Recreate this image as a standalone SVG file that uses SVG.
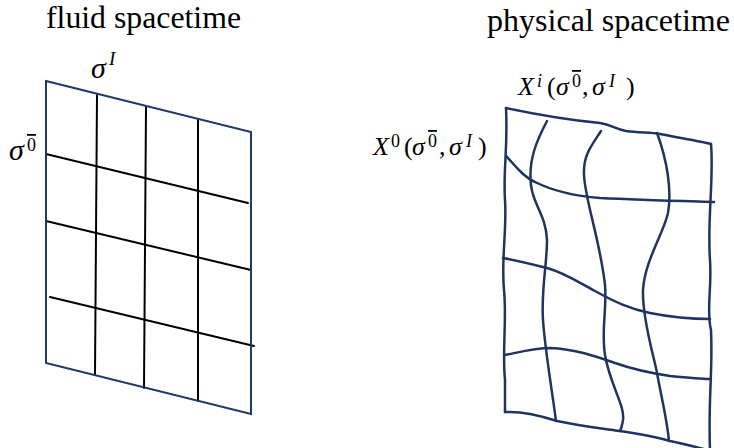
<svg xmlns="http://www.w3.org/2000/svg" width="734" height="448" viewBox="0 0 734 448">
<style>
.title{font-family:"Liberation Serif","DejaVu Serif",serif;font-size:31px;fill:#000}
.math{font-family:"Liberation Serif","DejaVu Serif",serif;fill:#000}
.it{font-style:italic}
.ov{text-decoration:overline}
.frame{fill:none;stroke:#203864;stroke-width:2}
.ln{fill:none;stroke:#000;stroke-width:2;stroke-linecap:round}
.wv{fill:none;stroke:#1f3460;stroke-width:2.5;stroke-linecap:round;stroke-linejoin:round}
</style>
<rect width="734" height="448" fill="#fff"/>
<g id="fluid-spacetime">
  <text class="title" x="46" y="28" textLength="195" lengthAdjust="spacingAndGlyphs">fluid spacetime</text>
  <g id="fluid-grid">
    <line class="ln" x1="97" y1="95" x2="95" y2="375"/>
    <line class="ln" x1="146" y1="107" x2="144" y2="388"/>
    <line class="ln" x1="198" y1="120" x2="198" y2="401"/>
    <line class="ln" x1="46" y1="154" x2="248" y2="203"/>
    <line class="ln" x1="46" y1="221" x2="251" y2="270"/>
    <line class="ln" x1="50" y1="297" x2="254" y2="346"/>
    <polygon class="frame" points="46,81 251,132 251,414 46,363"/>
  </g>
  <text class="math" font-size="30"><tspan class="it" x="91" y="77.5">σ</tspan><tspan class="it" font-size="19" x="109" y="64.5">I</tspan></text>
  <text class="math" font-size="30"><tspan class="it" x="9" y="160">σ</tspan><tspan class="ov" font-size="18" x="27" y="151">0</tspan></text>
</g>
<g id="physical-spacetime">
  <text class="title" x="487" y="31" textLength="243" lengthAdjust="spacingAndGlyphs">physical spacetime</text>
  <g id="physical-grid">
    <path class="wv" d="M506,108 C525,112 560,119 600,123 C612,125 615,129 626,131 C640,133 650,132 660,134 C680,138 700,141 711,144"/>
    <path class="wv" d="M506,108 C508,150 503,170 505,200 C507,230 501,260 504,290 C507,320 502,350 505,380 L505,412"/>
    <path class="wv" d="M711,144 C714,180 707,220 710,260 C712,290 706,310 711,330 C713,370 708,400 710,450"/>
    <path class="wv" d="M505,412 C525,411 545,417 557,421 C580,426 600,428 620,431 C640,434 660,438 670,441 C685,444 700,448 715,452"/>
    <path class="wv" d="M547,121 C537,140 528,160 531,185 C533,205 546,215 547,240 C547,265 541,290 543,320 C545,350 552,390 556,421"/>
    <path class="wv" d="M601,131 C592,145 583,155 584,175 C585,200 600,240 605,285 C607,310 601,330 605,355 C610,385 625,405 623,420 C622,426 621,429 620,431"/>
    <path class="wv" d="M657,133 C667,160 672,190 668,213 C663,235 645,260 643,290 C642,320 655,360 657,373 C662,400 667,420 669,441"/>
    <path class="wv" d="M506,156 C515,165 522,176 535,182 C555,192 575,196 600,198 C640,200 680,201 714,202"/>
    <path class="wv" d="M503,258 C520,261 535,265 547,268 C565,273 578,282 595,291 C615,302 630,309 650,313 C675,318 695,319 710,319"/>
    <path class="wv" d="M505,355 C520,352 535,348 550,348 C575,349 595,356 615,363 C635,370 650,373 670,376 C690,378 700,379 710,379"/>
  </g>
  <text class="math" font-size="26"><tspan class="it" x="518" y="95">X</tspan><tspan class="it" font-size="18" x="537" y="86.5">i</tspan><tspan x="547" y="95">(</tspan><tspan class="it" x="556" y="95">σ</tspan><tspan class="ov" font-size="18" x="572" y="87">0</tspan><tspan x="582" y="95">,</tspan><tspan class="it" x="592" y="95">σ</tspan><tspan class="it" font-size="18" x="609" y="86.5">I</tspan><tspan x="626" y="95">)</tspan></text>
  <text class="math" font-size="26"><tspan class="it" x="373" y="155">X</tspan><tspan font-size="18" x="391" y="146.5">0</tspan><tspan x="404" y="155">(</tspan><tspan class="it" x="412" y="155">σ</tspan><tspan class="ov" font-size="18" x="428" y="147">0</tspan><tspan x="439" y="155">,</tspan><tspan class="it" x="449" y="155">σ</tspan><tspan class="it" font-size="18" x="466" y="146.5">I</tspan><tspan x="478" y="155">)</tspan></text>
</g>
</svg>
